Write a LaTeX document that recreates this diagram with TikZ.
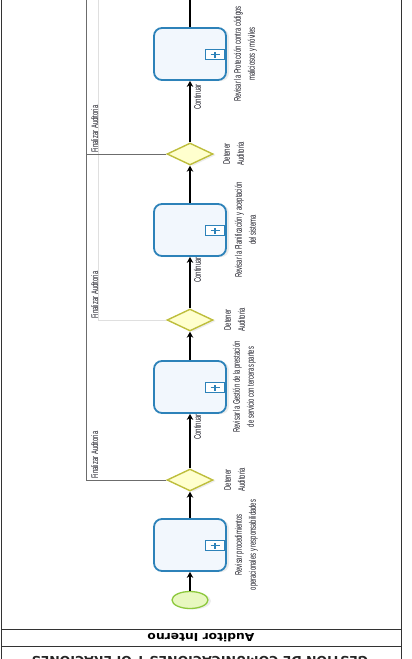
\documentclass[tikz,border=0pt]{standalone}
\usepackage{fontspec}
\setmainfont{Liberation Sans}
\newfontfamily\hdrfont{DejaVu Sans}
\usetikzlibrary{shapes.geometric,arrows.meta,shadows}
\definecolor{taskborder}{RGB}{45,130,185}
\definecolor{taskfill}{RGB}{242,247,253}
\definecolor{gwborder}{RGB}{190,190,60}
\definecolor{gwfill}{RGB}{255,255,206}
\definecolor{seborder}{RGB}{140,200,60}
\definecolor{sefill}{RGB}{232,248,192}
\definecolor{txtcol}{RGB}{25,25,35}
\newcommand{\rtx}[1]{\scalebox{0.62}[1]{\begin{tabular}{@{}c@{}}#1\end{tabular}}}
\begin{document}
\begin{tikzpicture}[x=1pt,y=-1pt,
  shade/.style={drop shadow={shadow xshift=3pt,shadow yshift=-1pt,opacity=0.15}},
  task/.style={draw=taskborder,line width=1.8pt,rounded corners=8pt,fill=taskfill,
    minimum width=72pt,minimum height=52pt,inner sep=0pt,shade},
  gw/.style={diamond,aspect=2.1,draw=gwborder,fill=gwfill,line width=1.4pt,
    minimum width=46pt,minimum height=22pt,inner sep=0pt,shade},
  startev/.style={ellipse,draw=seborder,fill=sefill,line width=1.3pt,
    minimum width=36pt,minimum height=17pt,inner sep=0pt,shade},
  mk/.style={draw=taskborder,line width=1.1pt,fill=white,minimum width=19pt,
    minimum height=10pt,inner sep=0pt},
  plus/.style={draw=taskborder,line width=1.6pt},
  flow/.style={draw=black,line width=1.3pt,-{Stealth[length=6pt,width=6.5pt]}},
  plainflow/.style={draw=black,line width=1.3pt},
  endflow/.style={draw=gray!85!black,line width=0.9pt},
  endlight/.style={draw=gray!25,line width=0.9pt},
  frame/.style={draw=black!80,line width=1pt},
  lbl/.style={font=\fontsize{9.5}{14}\selectfont,text=txtcol,inner sep=0pt,rotate=90},
  hdr/.style={font=\hdrfont\bfseries\fontsize{11}{13}\selectfont,text=black,inner sep=0pt},
  ttl/.style={font=\hdrfont\bfseries\fontsize{12.5}{14}\selectfont,text=black!85,inner sep=0pt}]
\useasboundingbox (0,0) rectangle (412,659);
\clip (0,0) rectangle (412,659);

% pool frame
\draw[frame] (1,-5) -- (1,664);
\draw[frame] (401,-5) -- (401,664);
\draw[frame] (1,629) -- (401,629);
\draw[frame] (1,646) -- (401,646);
\node[hdr,rotate=180] (lane) at (201,637.5) {\scalebox{1.12}[1]{Auditor Interno}};
\node[ttl,rotate=180,anchor=base] (pool) at (200,656) {GESTION DE COMUNICACIONES Y OPERACIONES};

% coordinates for flows leaving the picture
\coordinate (topc) at (190,-5);
\coordinate (fa) at (86,480);
\coordinate (fc) at (86,154);
\coordinate (ftop) at (86,-5);
\coordinate (fb) at (98,320);
\coordinate (fbtop) at (98,-5);

% end flows (behind)
\draw[endlight] (fb) -- (fbtop);
\draw[endflow] (fa) -- (ftop);

% nodes
\node[startev] (se) at (190,600) {};
\node[task] (t1) at (190,545) {};
\node[task] (t2) at (190,387) {};
\node[task] (t3) at (190,230) {};
\node[task] (t4) at (190,54) {};
\node[gw] (g1) at (190,480) {};
\node[gw] (g2) at (190,320) {};
\node[gw] (g3) at (190,154) {};

% subprocess markers
\foreach \t/\yy in {t1/545.5,t2/387.5,t3/230.5,t4/54.5}{
  \node[mk] (m\t) at (215,\yy) {};
  \draw[plus] ([xshift=-4.5pt]m\t.center) -- ([xshift=4.5pt]m\t.center);
  \draw[plus] ([yshift=-3pt]m\t.center) -- ([yshift=3pt]m\t.center);
}

% sequence flows
\draw[flow] (se) -- (t1);
\draw[flow] (t1) -- (g1);
\draw[flow] (g1) -- (t2);
\draw[flow] (t2) -- (g2);
\draw[flow] (g2) -- (t3);
\draw[flow] (t3) -- (g3);
\draw[flow] (g3) -- (t4);
\draw[plainflow] (t4) -- (topc);
\draw[endflow] (g1.west) -- (fa);
\draw[endflow] (g3.west) -- (fc);
\draw[endlight] (g2.west) -- (fb);

% labels
\node[lbl] (t1l) at (246,545) {\rtx{Revisar procedimientos\\operacionales y responsabilidades}};
\node[lbl] (t2l) at (244,387) {\rtx{Revisar la Gestión de la prestación\\de servicio con terceras partes}};
\node[lbl] (t3l) at (246,230) {\rtx{Revisar la Planificación y aceptación\\del sistema}};
\node[lbl] (t4l) at (245,54) {\rtx{Revisar la Protección contra códigos\\maliciosos y móviles}};
\node[lbl] (g1l) at (235,480) {\rtx{Detener\\Auditoria}};
\node[lbl] (g2l) at (235,320) {\rtx{Detener\\Auditoria}};
\node[lbl] (g3l) at (234,154) {\rtx{Detener\\Auditoria}};
\node[lbl] (c1) at (198,427) {\rtx{Continuar}};
\node[lbl] (c2) at (198,270) {\rtx{Continuar}};
\node[lbl] (c3) at (198,97) {\rtx{Continuar}};
\node[lbl,anchor=north west] (f1) at (88,479) {\rtx{Finalizar Auditoria}};
\node[lbl,anchor=north west] (f2) at (88,319) {\rtx{Finalizar Auditoria}};
\node[lbl,anchor=north west] (f3) at (88,153) {\rtx{Finalizar Auditoria}};
\end{tikzpicture}
\end{document}
